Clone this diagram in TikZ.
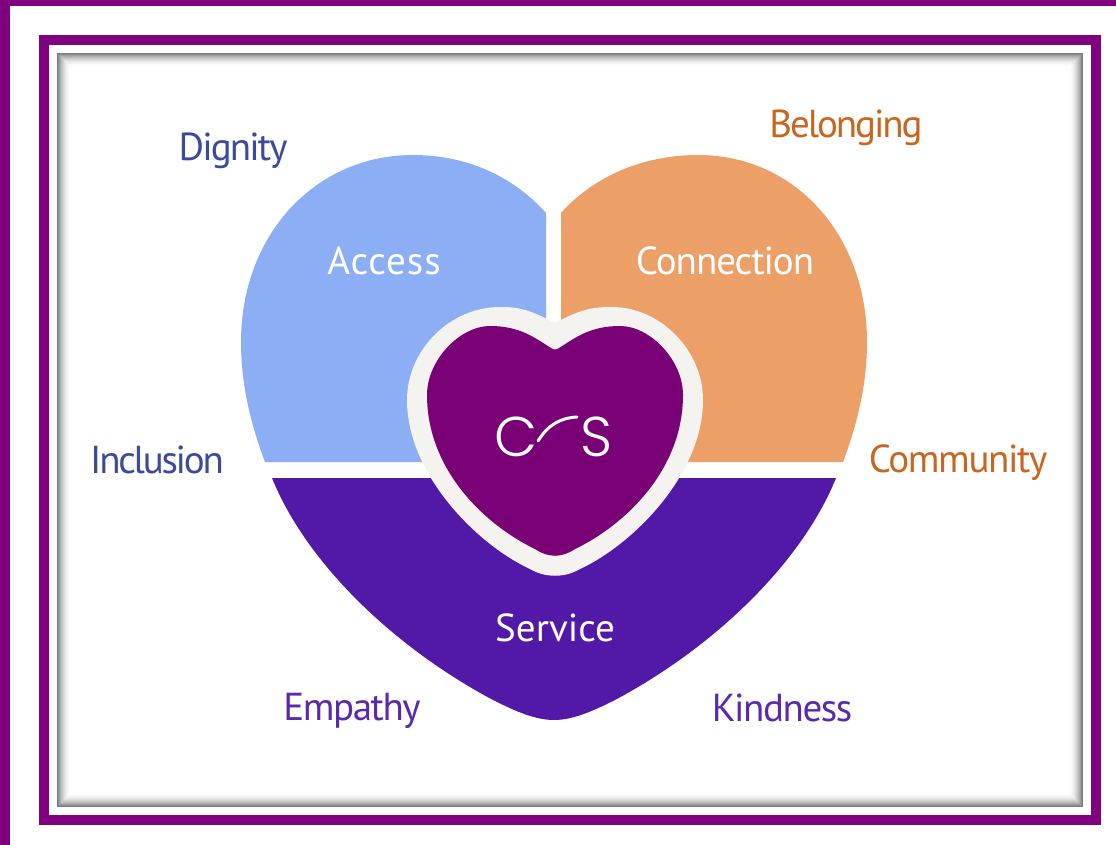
\documentclass[tikz,border=0pt]{standalone}
\usepackage{fontspec}
\setmainfont{PT Sans}
\newfontfamily\logofont{Poppins Light}
\usepackage{tikz}

\definecolor{framepurple}{HTML}{800080}
\definecolor{accessblue}{HTML}{8CAEF5}
\definecolor{connectorange}{HTML}{EC9F66}
\definecolor{serviceviolet}{HTML}{5218A8}
\definecolor{heartpurple}{HTML}{7A0075}
\definecolor{heartrim}{HTML}{F5F3EF}
\definecolor{bluetext}{HTML}{3B4B9C}
\definecolor{orangetext}{HTML}{C8661F}
\definecolor{violettext}{HTML}{5A2AAE}

\tikzset{
  word/.style={font=\fontsize{39}{40}\selectfont\addfontfeature{LetterSpace=#1}},
  inword/.style={word=#1, text=white},
  logo/.style={font=\logofont\fontsize{56}{60}\selectfont, text=white},
}

\begin{document}
\begin{tikzpicture}[x=1pt,y=-1pt]
\useasboundingbox (0,0) rectangle (1116,845);
\fill[white] (0,0) rectangle (1116,845);
% frames
\fill[framepurple] (0,0) rectangle (1116,6);
\fill[framepurple] (0,0) rectangle (10,845);
\draw[framepurple, line width=10pt] (44,40) rectangle (1096,820);
% soft inner edge
\foreach \i in {0,...,13}
  \pgfmathsetmacro{\k}{52*(1-\i/14)*(1-\i/14)}
  \draw[black!\k, line width=1.2pt] (58+\i,54+\i) rectangle (1082-\i,806-\i);
% quarters
\fill[accessblue] (546,213) .. controls (512,175) and (465,155) .. (413,155)
  .. controls (315,155) and (241,235) .. (241,342)
  .. controls (241,385) and (251,425) .. (265,462) -- (546,462) -- cycle;
\fill[connectorange] (561,213) .. controls (595,175) and (645,155) .. (698,155)
  .. controls (795,155) and (867,235) .. (867,342)
  .. controls (867,385) and (857,425) .. (843,462) -- (561,462) -- cycle;
\fill[serviceviolet] (272,478) -- (836,478)
  .. controls (803,560) and (718,645) .. (615,700)
  .. controls (593,711) and (573,720) .. (554,720)
  .. controls (535,720) and (515,711) .. (493,700)
  .. controls (390,645) and (305,560) .. (272,478) -- cycle;
% middle heart
\fill[heartrim] (555,323) .. controls (530,310) and (520,307) .. (500,307)
  .. controls (450,307) and (407,350) .. (407,400)
  .. controls (407,475) and (478,545) .. (530,569)
  .. controls (545,578) and (565,578) .. (580,569)
  .. controls (632,545) and (703,475) .. (703,400)
  .. controls (703,350) and (660,307) .. (612,307)
  .. controls (590,307) and (580,310) .. (555,323) -- cycle;
\fill[heartpurple] (551,348) .. controls (535,338) and (520,326) .. (490,326)
  .. controls (460,326) and (427,360) .. (427,395)
  .. controls (427,470) and (485,525) .. (535,549)
  .. controls (548,558) and (562,558) .. (575,549)
  .. controls (625,525) and (683,470) .. (683,395)
  .. controls (683,360) and (650,326) .. (620,326)
  .. controls (590,326) and (575,338) .. (559,348)
  .. controls (556,350) and (554,350) .. (551,348) -- cycle;
% logo
\node[logo] (cee) at (516,437) {C};
\node[logo] (ess) at (597,437) {S};
\coordinate (swishstart) at (538,441);
\coordinate (swishend) at (577,417);
\draw[white, line width=3pt, line cap=round] (swishstart) .. controls (548,425) and (560,418) .. (swishend);
% labels
\node[inword=2.6] (access) at (384,261) {Access};
\node[inword=-2.6] (connection) at (725,261) {Connection};
\node[inword=0] (service) at (555,628) {Service};
\node[word=-4.8, text=bluetext] (dignity) at (233,151) {Dignity};
\node[word=-5.4, text=orangetext] (belonging) at (846,128) {Belonging};
\node[word=-5.8, text=bluetext] (inclusion) at (157,460) {Inclusion};
\node[word=-3.5, text=orangetext] (community) at (958,463) {Community};
\node[word=-3.7, text=violettext] (empathy) at (352,711) {Empathy};
\node[word=-3.7, text=violettext] (kindness) at (782,708) {Kindness};
\end{tikzpicture}
\end{document}
